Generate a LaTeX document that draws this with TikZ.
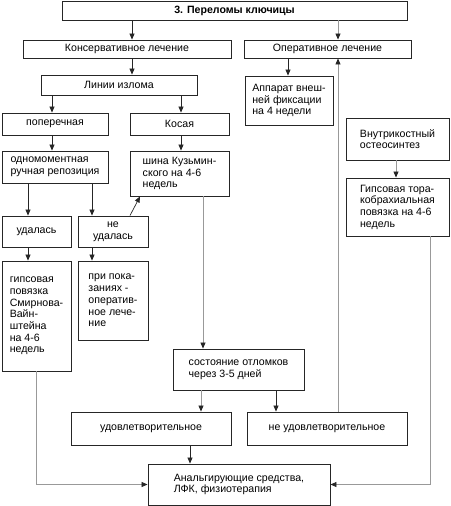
\documentclass[tikz,border=0pt]{standalone}
\usepackage{fontspec}
\setmainfont{Liberation Sans}
\usetikzlibrary{arrows.meta}
\begin{document}
\begin{tikzpicture}[x=1pt,y=-1pt,
  box/.style={draw=black!85, line width=0.9pt, align=left, inner sep=0pt, font=\fontsize{10.6}{11.7}\selectfont},
  arr/.style={-{Triangle[length=6pt,width=5pt]}, line width=0.7pt, draw=black!85},
  garr/.style={-{Triangle[length=6pt,width=5pt,color=black!85]}, line width=0.8pt, draw=black!40}]
\useasboundingbox (0,0) rectangle (450,506);
% boxes
\node[box, minimum width=345pt, minimum height=19pt, font=\fontsize{10.6}{11.7}\selectfont\bfseries] (title) at (234.5,10.5) {3. Переломы ключицы};
\node[box, minimum width=208pt, minimum height=18pt] (kons) at (127,49) {Консервативное лечение};
\node[box, minimum width=167pt, minimum height=18pt] (oper) at (327.5,49) {Оперативное лечение};
\node[box, minimum width=156pt, minimum height=20pt] (linii) at (119,85) {Линии излома};
\node[box, minimum width=88pt, minimum height=49pt] (appar) at (289,100.5) {Аппарат внеш-\\ней фиксации\\на 4 недели};
\node[box, minimum width=106pt, minimum height=22pt] (poper) at (55,124) {поперечная};
\node[box, minimum width=99pt, minimum height=22pt] (kosaya) at (179.5,124) {Косая};
\node[box, minimum width=106pt, minimum height=32pt] (odnom) at (55,167) {одномоментная\\ручная репозиция};
\node[box, minimum width=99pt, minimum height=45pt] (shina) at (179.5,173.5) {шина Кузьмин-\\ского на 4-6\\недель};
\node[box, minimum width=103pt, minimum height=42pt] (vnutr) at (397.5,139) {Внутрикостный\\остеосинтез};
\node[box, minimum width=103pt, minimum height=58pt] (gips2) at (397.5,207) {Гипсовая тора-\\кобрахиальная\\повязка на 4-6\\недель};
\node[box, minimum width=69pt, minimum height=31pt] (udal) at (36.5,231.5) {удалась};
\node[box, minimum width=70pt, minimum height=31pt, align=center] (neud) at (113,231.5) {не\\удалась};
\node[box, minimum width=69pt, minimum height=110pt] (gips) at (36.5,316) {гипсовая\\повязка\\Смирнова-\\Вайн-\\штейна\\на 4-6\\недель};
\node[box, minimum width=70pt, minimum height=79pt] (prip) at (113,300.5) {при пока-\\заниях -\\оператив-\\ное лече-\\ние};
\node[box, minimum width=131pt, minimum height=41pt] (sost) at (238.5,369.5) {состояние отломков\\через 3-5 дней};
\node[box, minimum width=160pt, minimum height=33pt] (udov) at (151,428.5) {удовлетворительное};
\node[box, minimum width=160pt, minimum height=33pt] (neudov) at (327,428.5) {не удовлетворительное};
\node[box, minimum width=182pt, minimum height=41pt] (anal) at (239,484.5) {Анальгирующие средства,\\ЛФК, физиотерапия};
% column coordinates
\coordinate (xa) at (132,0);
\coordinate (xb) at (338,0);
\coordinate (xc) at (288,0);
\coordinate (xd) at (52,0);
\coordinate (xe) at (181,0);
\coordinate (xf) at (28,0);
\coordinate (xg) at (92,0);
\coordinate (xh) at (203,0);
\coordinate (xi) at (201,0);
\coordinate (xj) at (276,0);
\coordinate (xk) at (190,0);
\coordinate (xl) at (396,0);
\coordinate (xn) at (430,0);
\coordinate (xq) at (130,0);
\coordinate (xr) at (140,0);
% connectors
\draw[arr] (title.south -| xa) -- (kons.north -| xa);
\draw[garr] (title.south -| xb) -- (oper.north -| xb);
\draw[arr] (kons.south -| xa) -- (linii.north -| xa);
\draw[arr] (oper.south -| xc) -- (appar.north -| xc);
\draw[arr] (linii.south -| xd) -- (poper.north -| xd);
\draw[arr] (linii.south -| xe) -- (kosaya.north -| xe);
\draw[arr] (poper.south -| xd) -- (odnom.north -| xd);
\draw[arr] (kosaya.south -| xe) -- (shina.north -| xe);
\draw[arr] (odnom.south -| xf) -- (udal.north -| xf);
\draw[arr] (odnom.south -| xg) -- (neud.north -| xg);
\draw[arr] (neud.north -| xq) -- (shina.south -| xr);
\draw[arr] (udal.south -| xf) -- (gips.north -| xf);
\draw[arr] (neud.south -| xg) -- (prip.north -| xg);
\draw[garr] (shina.south -| xh) -- (sost.north -| xh);
\draw[garr] (sost.south -| xi) -- (udov.north -| xi);
\draw[arr] (sost.south -| xj) -- (neudov.north -| xj);
\draw[garr] (neudov.north -| xb) -- (oper.south -| xb);
\draw[arr] (udov.south -| xk) -- (anal.north -| xk);
\draw[garr] (vnutr.south -| xl) -- (gips2.north -| xl);
\draw[garr] (gips.south) |- (anal.west);
\draw[garr] (gips2.south -| xn) |- (anal.east);
\end{tikzpicture}
\end{document}
